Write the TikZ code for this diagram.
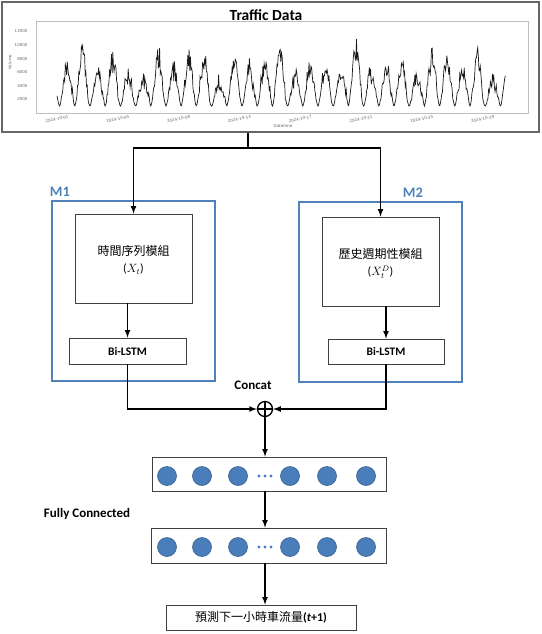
\documentclass[tikz,border=0pt]{standalone}
\usepackage{fontspec}
\setmainfont{Carlito}
\newfontfamily\cjk{Noto Sans CJK TC}
\newfontfamily\tickfont{DejaVu Sans}
\definecolor{mblue}{RGB}{79,129,189}
\definecolor{nblue}{RGB}{74,126,187}
\definecolor{nedge}{RGB}{56,93,138}

\begin{document}
\begin{tikzpicture}[x=1pt, y=-1pt, >=latex,
  box/.style={draw=black!75, line width=0.8pt, inner sep=0pt},
  modbox/.style={draw=mblue, line width=1.8pt, inner sep=0pt},
  flow/.style={line width=1.6pt},
  neuron/.style={circle, fill=nblue, draw=nedge, line width=0.6pt, minimum size=19pt, inner sep=0pt},
  boldlab/.style={font=\bfseries\fontsize{13}{15}\selectfont},
  ticklab/.style={font=\tickfont\fontsize{4}{5}\selectfont, text=black!60}]
\useasboundingbox (0,0) rectangle (541,634);

% traffic data panel
\node (data) [draw=black!60, line width=2pt, minimum width=537pt, minimum height=130pt, inner sep=0pt] at (270,67) {};
\node (title) at (266,15) {\bfseries\fontsize{15.5}{18}\selectfont Traffic Data};
\node (axes) [draw=black!25, line width=0.4pt, minimum width=492pt, minimum height=92pt, inner sep=0pt] at (282,67) {};
\foreach \v [count=\k] in {2000,4000,...,12000}
  \node [ticklab, anchor=east] (y\k) at (31,{113-13.6*\k}) {\v};
\foreach \d [count=\k from 0] in {01,05,09,13,17,21,25,29}
  \node [ticklab, rotate=10] (x\k) at ({57+60.8*\k},119) {2024-10-\d};
\node [ticklab] (xlab) at (283,126) {Datetime};
\node [ticklab, rotate=90] (ylab) at (10,62) {Volume};
\pgfmathsetseed{31}
\draw [black!90, line width=0.7pt] plot [domain=0:29.5, samples=700]
  ({57+15.2*\x}, {113-0.0068*(1000+(5600+1500*sin(137*floor(\x))+800*sin(61*floor(\x)))*(0.501-0.5*cos(360*(\x-0.17)))^0.8*(1+0.22*rand)+900*rand*(0.501-0.5*cos(360*(\x-0.17))))});

% M1
\node (m1) [modbox, minimum width=163pt, minimum height=180pt] at (133.5,291) {};
\node (m1lab) [text=mblue, font=\bfseries\fontsize{14.5}{17}\selectfont] at (60,192) {M1};
\node (tsmod) [box, minimum width=117pt, minimum height=89pt] at (133.5,258.5) {};
\node (tstext) [font=\cjk\fontsize{12}{14}\selectfont] at (133.5,251) {時間序列模組};
\node (tsvar) [font=\fontsize{12}{14}\selectfont] at (133.5,269) {($X_t$)};
\node (lstm1) [box, minimum width=117pt, minimum height=26pt, font=\bfseries\fontsize{11.5}{13}\selectfont] at (127.5,351) {Bi-LSTM};

% M2
\node (m2) [modbox, minimum width=163pt, minimum height=180pt] at (380.5,292) {};
\node (m2lab) [text=mblue, font=\bfseries\fontsize{14.5}{17}\selectfont] at (413,193) {M2};
\node (hpmod) [box, minimum width=117pt, minimum height=89pt] at (380.5,261.5) {};
\node (hptext) [font=\cjk\fontsize{12}{14}\selectfont] at (380.5,254) {歷史週期性模組};
\node (hpvar) [font=\fontsize{12}{14}\selectfont, inner ysep=1pt] at (380.5,272) {($X_t^D$)};
\node (lstm2) [box, minimum width=116pt, minimum height=25pt, font=\bfseries\fontsize{11.5}{13}\selectfont] at (386,351.5) {Bi-LSTM};

% split of the data
\coordinate (split) at (248,148);
\draw [flow] (split |- data.south) -- (split);
\draw [->][flow] (split) -| (tsmod.north);
\draw [->][flow] (split) -| (hpmod.north);
\draw [->][flow] (lstm1.north |- tsmod.south) -- (lstm1.north);
\draw [->][flow] (lstm2.north |- hpmod.south) -- (lstm2.north);

% concat
\node (cat) [circle, draw, line width=1.3pt, minimum size=15pt, inner sep=0pt] at (265,409) {};
\draw [line width=1.3pt] (cat.north) -- (cat.south);
\draw [line width=1.3pt] (cat.west) -- (cat.east);
\node (catlab) [boldlab] at (253,385) {Concat};
\draw [->][flow] (lstm1.south) |- (cat.west);
\draw [->][flow] (lstm2.south) |- (cat.east);

% dense layers
\node (layer1) [box, minimum width=234pt, minimum height=34pt] at (269,474) {};
\node (layer2) [box, minimum width=235pt, minimum height=35pt] at (268.5,545.5) {};
\foreach \x [count=\i] in {167,202,238,290,327,366} {
  \node (a\i) [neuron] at (\x,476) {};
  \node (b\i) [neuron] at (\x,547) {};
}
\foreach \x in {259,265,271} {
  \fill [nblue] (\x,476) circle (1.6);
  \fill [nblue] (\x,547) circle (1.6);
}
\node (fclab) [boldlab] at (87,514) {Fully Connected};
\draw [->][flow] (cat.south) -- (cat.south |- layer1.north);
\draw [->][flow] (cat.south |- layer1.south) -- (cat.south |- layer2.north);

% output
\node (out) [box, minimum width=190pt, minimum height=25pt] at (261,617.5)
  {{\cjk\fontsize{12}{14}\selectfont 預測下一小時車流量}{\bfseries\fontsize{12}{14}\selectfont(\textit{t}+1)}};
\draw [->][flow] (cat.south |- layer2.south) -- (cat.south |- out.north);
\end{tikzpicture}
\end{document}
